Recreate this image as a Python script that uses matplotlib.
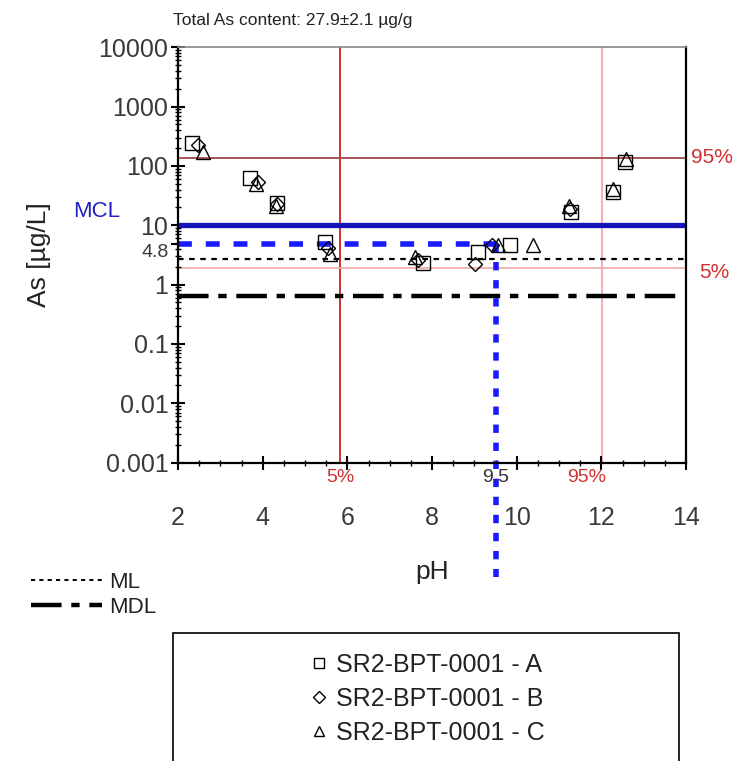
import numpy as np
import matplotlib.pyplot as plt
from matplotlib.lines import Line2D
from matplotlib.patches import Rectangle

plt.rcParams['font.family'] = ['Liberation Sans', 'DejaVu Sans']
plt.rcParams['lines.scale_dashes'] = False

# sample A (squares), B (diamonds), C (triangles): pH and As in ug/L
ph_a = [2.33, 3.70, 4.34, 5.47, 7.79, 9.09, 9.84, 11.28, 12.28, 12.56]
as_a = [245, 63, 24, 5.2, 2.3, 3.5, 4.7, 17, 36, 117]
ph_b = [2.47, 3.89, 4.34, 5.54, 7.67, 9.02, 9.42, 11.26]
as_b = [224, 54, 23, 4.2, 2.6, 2.2, 4.7, 19]
ph_c = [2.59, 3.84, 4.32, 5.59, 7.60, 9.56, 10.39, 11.24, 12.28, 12.58]
as_c = [174, 50, 21, 3.3, 2.9, 4.7, 4.7, 21, 41, 132]

mcl = 10
ml = 2.7
mdl = 0.65
as_5, as_95 = 1.9, 136
ph_5, ph_95 = 5.83, 12.02
ph_cross, as_cross = 9.5, 4.8

yticks = [0.001, 0.01, 0.1, 1, 4.8, 10, 100, 1000, 10000]
ylabels = ['0.001', '0.01', '0.1', '1', '4.8', '10', '100', '1000', '10000']

fig = plt.figure(figsize=(7.45, 7.61), dpi=100)
ax = fig.add_axes([0.239, 0.392, 0.682, 0.546])
ax.set_yscale('log')

# reference lines
ax.axvline(ph_5, color='#cc2020', lw=1.3, zorder=1)
ax.axvline(ph_95, color='#f4a8a8', lw=1.3, zorder=1)
ax.axhline(as_95, color='#a04848', lw=1.3, zorder=1)
ax.axhline(as_5, color='#f0b0b0', lw=1.3, zorder=1)
ax.axhline(mcl, color='#1414b8', lw=3.8, zorder=2)
ax.axhline(ml, color='black', lw=1.6, dashes=(4, 4), zorder=2)
ax.axhline(mdl, color='black', lw=3.2, dashes=(22, 7, 6, 7), zorder=2)
ax.plot([2, ph_cross], [as_cross, as_cross], color='#1a1aff', lw=4, dashes=(10, 10), zorder=2)
ax.plot([ph_cross, ph_cross], [as_cross, 1.2e-5], color='#1a1aff', lw=4,
        dashes=(6, 7), zorder=2, clip_on=False)

mk = dict(ls='none', mfc='none', mec='black', ms=10, mew=1.0, zorder=3)
ax.plot(ph_a, as_a, marker='s', label='SR2-BPT-0001 - A', **mk)
ax.plot(ph_b, as_b, marker='D', label='SR2-BPT-0001 - B', **dict(mk, ms=7.5))
ax.plot(ph_c, as_c, marker='^', label='SR2-BPT-0001 - C', **mk)

ax.set_xlim(2, 14)
ax.set_ylim(0.001, 10000)
ax.set_xticks(np.arange(2, 15, 2))
ax.set_xticks(np.arange(2, 14.01, 0.5), minor=True)
ax.set_yticks(yticks)
ax.set_yticklabels(ylabels)
ax.tick_params(axis='both', which='major', direction='inout', length=10, width=1.5,
               labelsize=18, labelcolor='#3a3a3a')
lab48 = ax.get_yticklabels()[4]
lab48.set_fontsize(14)
lab48.set_verticalalignment('top')
ax.tick_params(axis='both', which='minor', direction='inout', length=5, width=1.0)
ax.tick_params(axis='y', pad=2)
ax.tick_params(axis='x', pad=26)
ax.spines['top'].set_color('#888888')
ax.spines['top'].set_linewidth(1.2)
for s in ['left', 'bottom', 'right']:
    ax.spines[s].set_linewidth(1.6)

ax.set_xlabel('pH', fontsize=19, color='#222222', labelpad=22)
ax.set_ylabel('As [µg/L]', fontsize=19, color='#222222')
ax.yaxis.set_label_coords(-0.25, 0.5)
ax.set_title('Total As content: 27.9±2.1 µg/g', fontsize=12.5, loc='left',
             color='#222222', pad=16, x=-0.01)

# annotations
ax.text(1.01, as_95, '95%', transform=ax.get_yaxis_transform(), color='#d03030',
        fontsize=15, va='center')
ax.text(1.025, as_5 * 0.85, '5%', transform=ax.get_yaxis_transform(), color='#d03030',
        fontsize=15, va='center')
ax.text(ph_5, -0.015, '5%', transform=ax.get_xaxis_transform(), color='#d03030',
        fontsize=14, ha='center', va='top')
ax.text(ph_95 + 0.1, -0.015, '95%', transform=ax.get_xaxis_transform(), color='#d03030',
        fontsize=14, ha='right', va='top')
ax.text(ph_cross, -0.015, '9.5', transform=ax.get_xaxis_transform(), color='#333333',
        fontsize=14, ha='center', va='top')
ax.text(-0.16, mcl * 1.7, 'MCL', transform=ax.get_yaxis_transform(), color='#2020c0',
        fontsize=16, va='center', ha='center')

# ML / MDL key
key = [Line2D([], [], color='black', lw=1.4, dashes=(3, 3)),
       Line2D([], [], color='black', lw=3.2, dashes=(22, 7, 6, 7))]
fig.legend(key, ['ML', 'MDL'], loc='upper left', bbox_to_anchor=(0.015, 0.275),
           frameon=False, fontsize=16, handlelength=3.2, handletextpad=0.3,
           labelspacing=0.2, labelcolor='#222222')

# sample legend
fig.patches.append(Rectangle((0.232, -0.05), 0.68, 0.218, transform=fig.transFigure,
                             fill=False, edgecolor='black', lw=1.2))
h, l = ax.get_legend_handles_labels()
fig.legend(h, l, loc='upper center', bbox_to_anchor=(0.575, 0.172), frameon=False,
           fontsize=18, markerscale=0.75, handlelength=0.6, handletextpad=0.4,
           labelspacing=0.4, labelcolor='#222222')

fig.savefig('out.png', dpi=100)
